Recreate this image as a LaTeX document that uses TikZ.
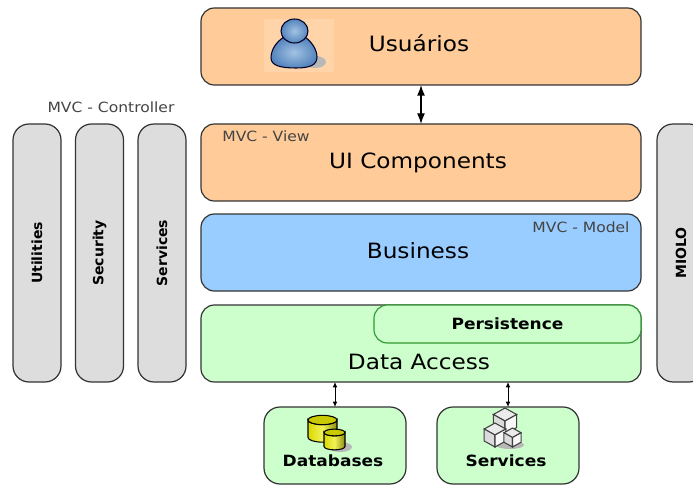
\documentclass[tikz,border=0pt]{standalone}
\usepackage{fontspec}
\setmainfont{DejaVu Sans}
\newfontfamily\widefont[FakeStretch=1.1]{DejaVu Sans}
\usepackage{graphicx}
\usetikzlibrary{arrows.meta}
\usetikzlibrary{positioning}

\definecolor{peach}{HTML}{FFCC99}
\definecolor{skyblue}{HTML}{99CCFF}
\definecolor{mint}{HTML}{CCFFCC}
\definecolor{sidegray}{HTML}{DDDDDD}
\definecolor{edgegray}{HTML}{333333}
\definecolor{edgegreen}{HTML}{339933}
\definecolor{notegray}{HTML}{444444}
\definecolor{userlight}{HTML}{A3C2E3}
\definecolor{userdark}{HTML}{5585BD}
\definecolor{canlight}{HTML}{F2F25A}
\definecolor{canmid}{HTML}{D9D900}
\definecolor{candark}{HTML}{8C8C10}

\tikzset{
  layer/.style={draw=edgegray, line width=0.9pt, rounded corners=10pt, inner sep=0pt, outer sep=0pt,
    minimum width=330pt, minimum height=57.75pt},
  layertext/.style={inner sep=0pt, font=\widefont\fontsize{15.8pt}{18pt}\selectfont},
  sidebox/.style={draw=edgegray, line width=0.9pt, fill=sidegray, rounded corners=12pt, inner sep=0pt, outer sep=0pt,
    minimum width=36pt, minimum height=193.5pt, font=\fontsize{10.5pt}{12pt}\selectfont\bfseries},
  store/.style={draw=edgegray, line width=0.9pt, fill=mint, rounded corners=12pt, inner sep=0pt, outer sep=0pt,
    minimum width=106.5pt, minimum height=57.75pt},
  storetext/.style={font=\widefont\fontsize{11.6pt}{13pt}\selectfont\bfseries, inner sep=0pt},
  note/.style={text=notegray, font=\widefont\fontsize{10.6pt}{12pt}\selectfont, inner sep=0pt},
  bigarrow/.style={{Latex[length=8pt,width=6pt]}-{Latex[length=8pt,width=6pt]}, line width=1pt},
  smallarrow/.style={{Latex[length=4pt,width=3.5pt]}-{Latex[length=4pt,width=3.5pt]}, line width=0.7pt},
  iconedge/.style={draw=black, line width=0.8pt},
}

% cylinder: centre x, top y, half width, height
\newcommand{\dbcan}[4]{
  \path[iconedge, left color=canmid, right color=candark, middle color=canlight]
    (#1-#3,#2) -- (#1-#3,#2+#4) arc[start angle=180, end angle=0, x radius=#3, y radius=#3*0.32]
    -- (#1+#3,#2) arc[start angle=0, end angle=180, x radius=#3, y radius=#3*0.32] -- cycle;
  \path[iconedge, fill=canmid!80!candark] (#1,#2) ellipse[x radius=#3, y radius=#3*0.32];
}
% cube: centre x, centre y, radius
\newcommand{\servercube}[3]{
  \path[iconedge, draw=black!75, fill=black!8] (#1,#2-#3) -- (#1+#3*0.9,#2-#3*0.5) -- (#1,#2) -- (#1-#3*0.9,#2-#3*0.5) -- cycle;
  \path[iconedge, draw=black!75, fill=black!14] (#1-#3*0.9,#2-#3*0.5) -- (#1,#2) -- (#1,#2+#3) -- (#1-#3*0.9,#2+#3*0.5) -- cycle;
  \path[iconedge, draw=black!75, fill=black!3] (#1+#3*0.9,#2-#3*0.5) -- (#1,#2) -- (#1,#2+#3) -- (#1+#3*0.9,#2+#3*0.5) -- cycle;
}

\begin{document}
\begin{tikzpicture}[x=0.75pt, y=-0.75pt]
  \useasboundingbox (0,0) rectangle (693,485);

  % main layers
  \node[layer, fill=peach] (usuarios) at (421,46.5) {};
  \node[layer, fill=peach, below=29.25pt of usuarios] (ui) {};
  \node[layer, fill=skyblue, below=9.75pt of ui] (business) {};
  \node[layer, fill=mint, below=10.5pt of business] (dataaccess) {};
  \node[layer, fill=mint, draw=edgegreen, minimum width=200.25pt, minimum height=28.5pt, anchor=north east,
    font=\widefont\fontsize{11.6pt}{13pt}\selectfont\bfseries] (persistence) at (dataaccess.north east) {Persistence};

  \node[layertext] (usuariostext) at (419,43) {Usuários};
  \node[layertext] (uitext) at (418,163) {UI Components};
  \node[layertext] (businesstext) at (418,251) {Business};
  \node[layertext] (datatext) at (419,362) {Data Access};

  \node[note] (viewnote) at (266,136) {MVC - View};
  \node[note] (modelnote) at (581,227) {MVC - Model};
  \node[note] (controllernote) at (111,107) {MVC - Controller};

  % side columns
  \node[sidebox, left=11.25pt of ui.north west, anchor=north east] (servicesside) {\rotatebox{90}{Services}};
  \node[sidebox, left=10.875pt of servicesside.north west, anchor=north east] (security) {\rotatebox{90}{Security}};
  \node[sidebox, left=10.875pt of security.north west, anchor=north east] (utilities) {\rotatebox{90}{Utilities}};
  \node[sidebox, right=12pt of ui.north east, anchor=north west] (miolo) {\rotatebox{90}{MIOLO}};

  % bottom stores
  \node[store, below=18.75pt of dataaccess.south, xshift=-64.5pt] (databases) {};
  \node[store, right=23.25pt of databases] (services) {};
  \node[storetext] (databasestext) at (333,461) {Databases};
  \node[storetext] (servicestext) at (506,461) {Services};

  % connectors
  \draw[bigarrow] (usuarios) -- (ui);
  \draw[smallarrow] (databases.north |- dataaccess.south) -- (databases.north);
  \draw[smallarrow] (services.north |- dataaccess.south) -- (services.north);

  % user icon
  \fill[peach!85!white] (264,19) rectangle (334,72);
  \fill[black!28] (315,62) ellipse[x radius=11, y radius=6];
  \path[iconedge, draw=black!85!blue, inner color=userlight, outer color=userdark]
    (284,37) .. controls (276,42) and (271,50) .. (271,58) .. controls (271,66) and (282,68) .. (296,68)
    .. controls (310,68) and (317,65) .. (317,57) .. controls (317,50) and (312,42) .. (305,37) -- cycle;
  \path[iconedge, draw=black!85!blue, inner color=userlight, outer color=userdark] (294.5,31) ellipse[x radius=13.5, y radius=12];

  % database icon
  \fill[black!28] (340,447) ellipse[x radius=12, y radius=5];
  \dbcan{322.5}{420}{14.5}{17.5}
  \dbcan{334.5}{432.5}{10.5}{14}

  % cube icon
  \fill[black!28] (510,445) ellipse[x radius=14, y radius=4];
  \servercube{505}{421}{13}
  \servercube{495}{435}{12}
  \servercube{512.5}{437.5}{9.5}
\end{tikzpicture}
\end{document}
